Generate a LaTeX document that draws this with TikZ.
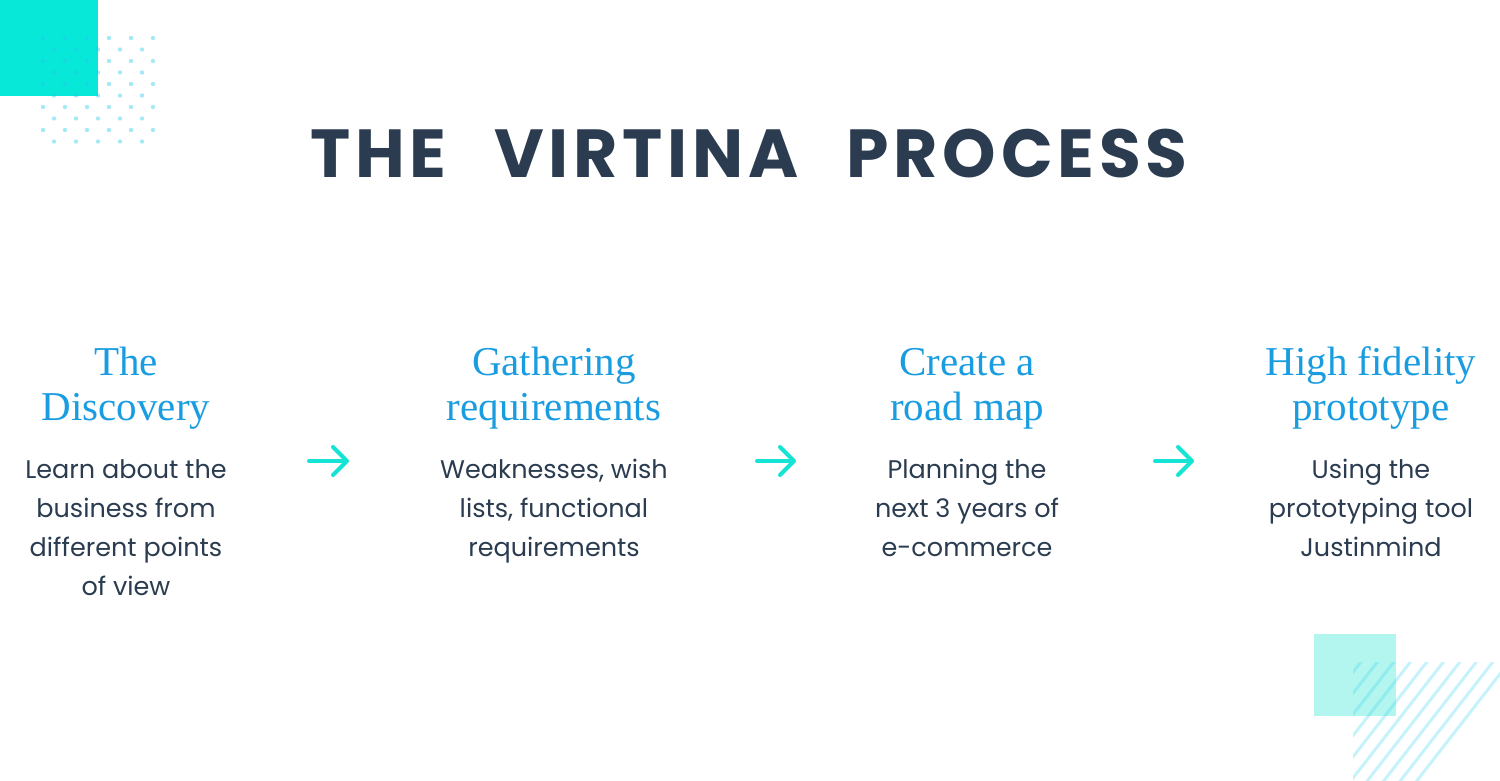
\documentclass[tikz,border=0pt]{standalone}
\usepackage{fontspec}
\usetikzlibrary{arrows.meta}
\newfontfamily\titlefont[LetterSpace=7, WordSpace=2.5]{Poppins}
\newfontfamily\bodyfont{Poppins}
\newfontfamily\headfont{Liberation Serif}
\definecolor{navy}{HTML}{2B3C50}
\definecolor{headblue}{HTML}{1A9DE0}
\definecolor{flowcyan}{HTML}{15E3D3}
\definecolor{tealbox}{HTML}{08E8D8}
\definecolor{mintbox}{HTML}{B3F6F0}
\definecolor{dotcyan}{HTML}{20C8E8}
\definecolor{hatchcyan}{HTML}{40D8EC}
\tikzset{
  steptitle/.style={font=\headfont\fontsize{41}{45}\selectfont, text=headblue, align=center, anchor=base, inner sep=0pt},
  stepbody/.style={font=\bodyfont\fontsize{25.5}{39}\selectfont, text=navy, align=center, anchor=base, inner sep=0pt},
  flow/.style={draw=flowcyan, line width=4pt, line cap=round,
    -{Straight Barb[length=14pt, width=28pt, line join=round, line cap=round]}},
}
\begin{document}
\begin{tikzpicture}[x=1pt, y=-1pt]
\useasboundingbox (0,0) rectangle (1500,780);

% Decoracao superior esquerda
\fill[tealbox] (0,0) rectangle (98,96);
\foreach \r in {0,...,4} {
  \foreach \c in {0,...,5}
    \fill[dotcyan, opacity=0.4] (43+22*\c, 38+23*\r) circle (2.2);
  \foreach \c in {0,...,4}
    \fill[dotcyan, opacity=0.4] (54+22*\c, 49.5+23*\r) circle (2.2);
}

% Decoracao inferior direita
\fill[mintbox] (1314,634) rectangle (1396,716);
\begin{scope}
\clip (1353,662) rectangle (1500,780);
\foreach \k in {-7,...,6}
  \draw[hatchcyan, opacity=0.3, line width=3pt] (1410+16.5*\k+5, 656) -- (1410+16.5*\k-97, 787);
\end{scope}

% Titulo
\node[font=\titlefont\bfseries\fontsize{68}{68}\selectfont, text=navy, inner sep=0pt] (title) at (749,154) {THE VIRTINA PROCESS};

% Etapas (ancora na ultima linha)
\node[steptitle] (head1) at (126,420) {The\\Discovery};
\node[stepbody] (body1) at (126,595) {Learn about the\\business from\\different points\\of view};

\node[steptitle] (head2) at (554,420) {Gathering\\requirements};
\node[stepbody] (body2) at (554,556) {Weaknesses, wish\\lists, functional\\requirements};

\node[steptitle] (head3) at (967,420) {Create a\\road map};
\node[stepbody] (body3) at (967,556) {Planning the\\next 3 years of\\e-commerce};

\node[steptitle] (head4) at (1371,420) {High fidelity\\prototype};
\node[stepbody] (body4) at (1371,556) {Using the\\prototyping tool\\Justinmind};

% Setas
\coordinate (a1) at (309,461); \coordinate (b1) at (349,461);
\coordinate (a2) at (757,461); \coordinate (b2) at (796,461);
\coordinate (a3) at (1155,461); \coordinate (b3) at (1194,461);
\draw[flow] (a1) -- (b1);
\draw[flow] (a2) -- (b2);
\draw[flow] (a3) -- (b3);
\end{tikzpicture}
\end{document}
